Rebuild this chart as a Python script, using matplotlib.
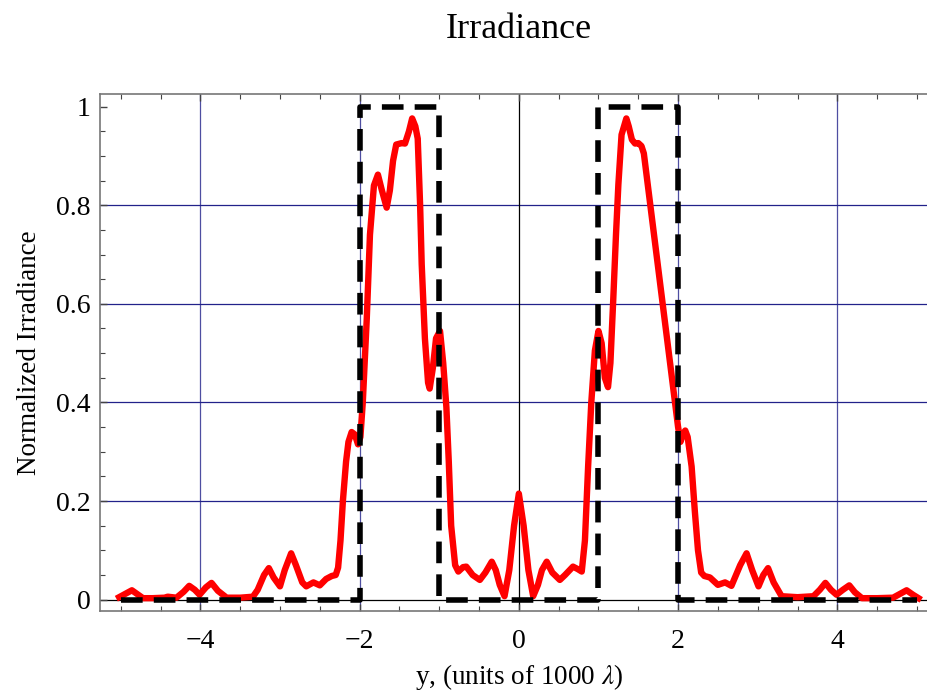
import matplotlib.pyplot as plt
from matplotlib.ticker import MultipleLocator, FixedLocator

plt.rcParams['font.family'] = ['Liberation Serif', 'DejaVu Serif']
plt.rcParams['mathtext.fontset'] = 'stix'

# irradiance curve
y_pos = [-5.02, -4.94, -4.86, -4.78, -4.72, -4.60, -4.45, -4.41, -4.30, -4.21,
         -4.14, -4.07, -4.01, -3.93, -3.86, -3.78, -3.67, -3.50, -3.34, -3.28,
         -3.20, -3.14, -3.08, -3.00, -2.94, -2.86, -2.80, -2.72, -2.67, -2.58,
         -2.50, -2.42, -2.35, -2.30, -2.27, -2.24, -2.21, -2.17, -2.14, -2.10,
         -2.06, -2.02, -1.99, -1.96, -1.91, -1.87, -1.82, -1.77, -1.72, -1.66,
         -1.62, -1.58, -1.54, -1.47, -1.43, -1.38, -1.34, -1.30, -1.27, -1.24,
         -1.22, -1.18, -1.14, -1.12, -1.08, -1.04, -0.99, -0.95, -0.91, -0.88,
         -0.85, -0.80, -0.76, -0.70, -0.66, -0.58, -0.49, -0.42, -0.34, -0.29,
         -0.24, -0.18, -0.12, -0.06, 0.0, 0.06, 0.12, 0.18, 0.24, 0.29,
         0.35, 0.42, 0.515, 0.58, 0.68, 0.74, 0.79, 0.83, 0.87, 0.91,
         0.955, 1.00, 1.04, 1.08, 1.12, 1.15, 1.185, 1.22, 1.25, 1.29,
         1.35, 1.38, 1.42, 1.46, 1.50, 1.54, 1.57, 2.00, 2.03, 2.06,
         2.09, 2.12, 2.17, 2.21, 2.25, 2.29, 2.33, 2.40, 2.50, 2.59,
         2.67, 2.78, 2.86, 2.93, 3.01, 3.07, 3.13, 3.20, 3.30, 3.50,
         3.70, 3.78, 3.85, 3.92, 3.99, 4.07, 4.15, 4.22, 4.31, 4.50,
         4.70, 4.79, 4.87, 4.95, 5.02]
irr = [0.005, 0.012, 0.019, 0.010, 0.003, 0.003, 0.004, 0.006, 0.004, 0.016,
       0.028, 0.020, 0.010, 0.025, 0.034, 0.018, 0.004, 0.004, 0.006, 0.020,
       0.050, 0.064, 0.045, 0.027, 0.060, 0.094, 0.070, 0.035, 0.027, 0.035,
       0.029, 0.042, 0.048, 0.050, 0.065, 0.120, 0.200, 0.280, 0.320, 0.340,
       0.335, 0.315, 0.330, 0.400, 0.570, 0.740, 0.840, 0.862, 0.830, 0.795,
       0.830, 0.890, 0.923, 0.926, 0.925, 0.950, 0.976, 0.960, 0.935, 0.800,
       0.680, 0.530, 0.440, 0.428, 0.470, 0.530, 0.545, 0.480, 0.390, 0.280,
       0.150, 0.070, 0.057, 0.066, 0.067, 0.050, 0.040, 0.055, 0.077, 0.060,
       0.030, 0.007, 0.060, 0.150, 0.215, 0.150, 0.060, 0.007, 0.030, 0.060,
       0.077, 0.055, 0.040, 0.050, 0.067, 0.062, 0.057, 0.120, 0.270, 0.400,
       0.505, 0.545, 0.520, 0.450, 0.431, 0.480, 0.606, 0.740, 0.842, 0.943,
       0.976, 0.960, 0.933, 0.925, 0.926, 0.920, 0.905, 0.350, 0.320, 0.335,
       0.343, 0.330, 0.270, 0.180, 0.100, 0.055, 0.048, 0.045, 0.030, 0.035,
       0.028, 0.070, 0.094, 0.060, 0.027, 0.050, 0.064, 0.035, 0.007, 0.005,
       0.007, 0.020, 0.034, 0.020, 0.010, 0.020, 0.029, 0.015, 0.003, 0.003,
       0.004, 0.012, 0.019, 0.010, 0.003]

# aperture (two slits)
slit_x = [-5, -2, -2, -1, -1, 1, 1, 2, 2, 5]
slit_y = [0, 0, 1, 1, 0, 0, 1, 1, 0, 0]

fig = plt.figure(figsize=(9.28, 6.94), dpi=100)
ax = fig.add_axes([0.1078, 0.1196, 0.9026, 0.7450])

grid_col = '#22228a'
for gx in [-4, -2, 2, 4]:
    ax.axvline(gx, color=grid_col, lw=0.9, alpha=0.8, zorder=1)
for gy in [0.2, 0.4, 0.6, 0.8]:
    ax.axhline(gy, color=grid_col, lw=0.9, zorder=1)
ax.axvline(0, color='black', lw=0.9, zorder=1)
ax.axhline(0, color='black', lw=0.9, zorder=1)

ax.plot(y_pos, irr, color='#ff0000', lw=4.6, solid_joinstyle='round', zorder=3)
ax.plot(slit_x, slit_y, color='black', lw=4.0, dashes=(3.9, 2.0), dash_capstyle='butt',
        zorder=4)

ax.set_xlim(-5.26, 5.26)
ax.set_ylim(-0.023, 1.0256)

ax.xaxis.set_major_locator(FixedLocator([-4, -2, 0, 2, 4]))
ax.xaxis.set_minor_locator(MultipleLocator(0.5))
ax.yaxis.set_major_locator(FixedLocator([0, 0.2, 0.4, 0.6, 0.8, 1.0]))
ax.yaxis.set_minor_locator(MultipleLocator(0.05))
ax.set_yticklabels(['0', '0.2', '0.4', '0.6', '0.8', '1'])
ax.set_xticklabels(['\u22124', '\u22122', '0', '2', '4'])
ax.tick_params(which='both', direction='in', top=True, right=True, color='#444444',
               labelsize=20)
ax.tick_params(which='major', length=5, width=1)
ax.tick_params(which='minor', length=3.5, width=0.8)
ax.tick_params(axis='x', pad=13)
ax.tick_params(axis='y', pad=7)
for s in ax.spines.values():
    s.set_color('#777777')
    s.set_linewidth(1.2)

ax.set_xlabel(r'y, (units of 1000 $\lambda$)', fontsize=19.5, labelpad=6)
ax.set_ylabel('Normalized Irradiance', fontsize=19.5, labelpad=10)
fig.text(0.5595, 0.958, 'Irradiance', ha='center', va='center', fontsize=26)

fig.savefig('out.png', dpi=100)
